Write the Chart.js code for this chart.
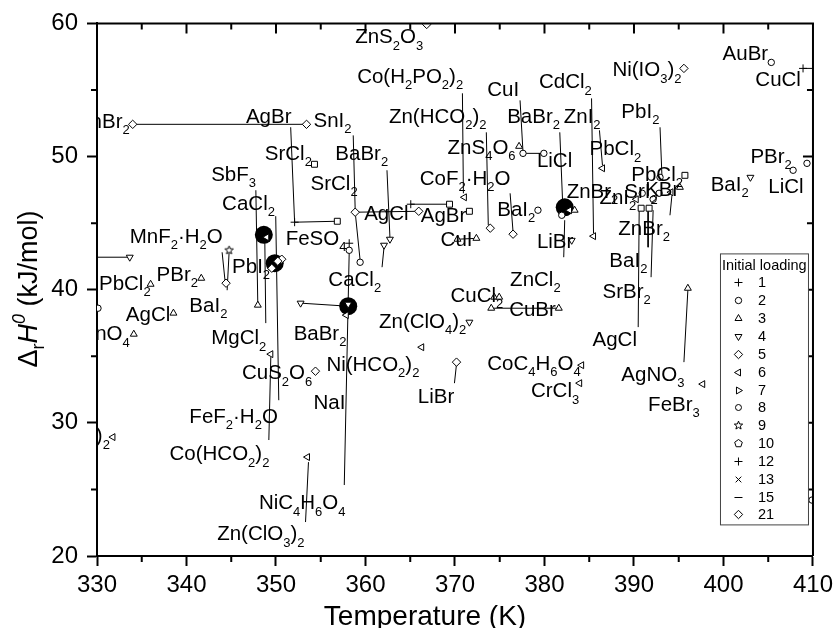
<!DOCTYPE html>
<html>
<head>
<meta charset="utf-8">
<title>Reaction enthalpy vs temperature</title>
<script src="https://cdn.jsdelivr.net/npm/chart.js@4.4.1/dist/chart.umd.min.js"></script>
<style>
  html, body { margin: 0; padding: 0; background: #fff; }
  #wrap { width: 838px; height: 628px; }
</style>
</head>
<body>
<div id="wrap"><canvas id="chart" width="838" height="628"></canvas></div>
<script>
const FONT = "'Liberation Sans', Arial, Helvetica, sans-serif";

// ── Data: [T (K), ΔrH0 (kJ/mol)] per initial loading ─────────────
const load1  = [[352.08, 45.07], [358.18, 43.49], [365.06, 46.42], [408.89, 56.62]];
const load2  = [[405.34, 57.07], [377.6, 50.24], [379.93, 50.24], [379.27, 45.97], [359.4, 42.06],
                [381.93, 45.59], [390.92, 47.24], [392.14, 46.79], [392.8, 47.24], [392.91, 48.44],
                [407.78, 48.97], [409.33, 49.49], [409.89, 24.2], [330.11, 38.61], [358.18, 42.96]];
const load3  = [[377.16, 50.77], [370.28, 43.79], [372.39, 43.86], [374.38, 39.44], [374.94, 39.44],
                [374.05, 38.61], [381.6, 38.61], [383.37, 45.97], [395.13, 47.69], [396.02, 40.11],
                [347.97, 38.84], [335.99, 40.41], [341.65, 40.86], [338.54, 38.24], [334.11, 36.66]];
const load4  = [[333.66, 42.44], [352.75, 38.99], [362.73, 43.79], [362.07, 43.34], [371.61, 37.56],
                [383.04, 43.71], [403.01, 48.44], [358.07, 38.91]];
const load5  = [[333.99, 52.42], [353.41, 52.42], [358.85, 45.82], [365.95, 45.89], [373.94, 44.62],
                [376.49, 44.17], [370.17, 34.56], [354.41, 33.88], [344.42, 40.49], [350.64, 42.29],
                [349.53, 41.61], [350.2, 42.14]];
const load6  = [[371.05, 46.94], [366.28, 35.68], [349.42, 35.16], [353.52, 27.43], [331.78, 28.93],
                [385.48, 44.02], [386.48, 49.12], [390.25, 46.79], [394.13, 47.32], [384.15, 34.33],
                [383.93, 32.98], [397.68, 32.91], [348.97, 43.94], [357.85, 38.09], [382.8, 45.97]];
const load7  = [];
const load8  = [];
const load9  = [[344.76, 42.96]];
const load10 = [[354.3, 49.42], [356.85, 45.14], [369.39, 46.42], [371.61, 45.89], [395.69, 48.59],
                [390.8, 46.12], [391.69, 46.12]];
const load12 = [];
const load13 = [];
const load15 = [];
const load21 = [[366.84, 59.92], [395.58, 56.62]];

// filled markers drawn under the open ones
const bigDots = [[348.64, 44.12], [349.86, 41.99], [358.07, 38.76], [382.26, 46.19]];

// connector / leader lines [T1, H1, T2, H2]
const leaderLines = [
  [333.99, 52.42, 353.41, 52.42], [351.64, 52.2, 352.08, 45.07], [352.08, 45.07, 356.85, 45.14],
  [370.83, 54.75, 370.94, 47.24], [373.5, 51.82, 373.72, 44.84], [377.27, 54.22, 377.6, 50.32],
  [377.6, 50.24, 379.93, 50.24], [376.16, 47.24, 376.49, 44.32], [362.4, 48.97, 362.73, 43.94],
  [358.63, 51.59, 358.85, 45.97], [358.85, 45.82, 359.4, 42.21], [362.07, 43.19, 361.85, 41.69],
  [358.18, 42.81, 357.63, 25.33], [325, 42.44, 333.66, 42.44], [352.75, 38.99, 358.07, 38.76],
  [344.76, 42.81, 344.54, 39.96], [343.98, 42.81, 344.31, 40.64], [347.75, 47.47, 347.97, 38.84],
  [349.97, 45.52, 350.31, 31.7], [348.75, 43.71, 348.86, 37.49], [349.42, 34.94, 349.2, 28.71],
  [353.63, 27.05, 353.3, 22.55], [370.17, 34.41, 369.94, 32.98], [374.05, 38.61, 381.6, 38.61],
  [370.28, 43.79, 372.39, 43.86], [358.85, 45.82, 365.95, 45.89], [365.06, 46.42, 369.39, 46.42],
  [382.26, 45.22, 382.15, 42.44], [381.71, 51.82, 382.04, 46.34], [385.26, 54.37, 385.48, 44.24],
  [386.14, 51.97, 386.48, 49.34], [392.91, 52.2, 393.13, 48.44], [390.58, 45.97, 390.47, 37.19],
  [391.58, 45.97, 391.58, 43.19], [392.14, 45.97, 391.91, 40.94], [394.24, 47.09, 394.02, 45.59],
  [396.02, 39.96, 395.58, 34.56], [408.89, 56.62, 411.3, 56.62]
];

// compound labels: [text, T, H, align]  (_x = subscript)
const labels = [
  ['ZnBr_2', 333.66, 52.72, 'r'], ['AgBr', 346.64, 53.1], ['SnI_2', 354.19, 52.8],
  ['SrCl_2', 348.75, 50.32], ['BaBr_2', 356.63, 50.32], ['SrCl_2', 353.86, 48.07],
  ['SbF_3', 342.76, 48.74], ['CaCl_2', 343.98, 46.57], ['ZnS_2O_3', 358.85, 59.1],
  ['Co(H_2PO_2)_2', 359.07, 56.1], ['Zn(HCO_2)_2', 362.62, 53.1], ['CuI', 373.61, 55.12],
  ['BaBr_2', 375.83, 53.1], ['ZnS_4O_6', 369.17, 50.77], ['LiCl', 379.15, 49.79],
  ['CoF_2·H_2O', 366.06, 48.44], ['BaI_2', 374.72, 46.12], ['AgCl', 359.85, 45.82],
  ['AgBr', 366.17, 45.67], ['CuI', 368.39, 43.86], ['FeSO_4', 351.08, 43.94],
  ['MnF_2·H_2O', 333.66, 44.09], ['PbI_2', 345.09, 41.84], ['CaCl_2', 355.85, 40.86],
  ['PbCl_2', 330.22, 40.56], ['PBr_2', 336.66, 41.24], ['BaI_2', 340.32, 38.91],
  ['AgCl', 333.22, 38.24], ['KMnO_4', 333.66, 36.74, 'r'], ['MgCl_2', 342.76, 36.44],
  ['CuS_2O_6', 346.2, 33.81], ['FeF_2·H_2O', 340.32, 30.58], ['Co(HCO_2)_2', 338.1, 27.73],
  ['NiC_4H_6O_4', 348.09, 24.05], ['Zn(ClO_3)_2', 343.43, 21.73], ['Co(IO_3)_2', 331.44, 29.08, 'r'],
  ['BaBr_2', 351.97, 36.81], ['NaI', 354.19, 31.56], ['Ni(HCO_2)_2', 355.63, 34.48],
  ['Zn(ClO_4)_2', 361.51, 37.71], ['CuCl_2', 369.5, 39.66], ['CuBr', 376.05, 38.61],
  ['LiBr', 365.84, 32.08], ['CoC_4H_6O_4', 373.61, 34.56], ['CrCl_3', 378.49, 32.46],
  ['LiBr', 379.15, 43.71], ['ZnCl_2', 376.16, 40.86], ['ZnBr_2', 388.25, 44.69],
  ['BaI_2', 387.25, 42.29], ['SrBr_2', 386.48, 39.96], ['AgCl', 385.37, 36.36],
  ['AgNO_3', 388.59, 33.73], ['FeBr_3', 391.58, 31.48], ['CdCl_2', 379.38, 55.72],
  ['ZnI_2', 382.15, 53.1], ['PbI_2', 388.59, 53.47], ['PbCl_2', 385.03, 50.69],
  ['ZnBr_2', 382.48, 47.47], ['PbCl_2', 389.7, 48.74], ['ZnI_2', 386.14, 47.02],
  ['SrI_2', 388.92, 47.47], ['KBr', 391.25, 47.62], ['BaI_2', 398.57, 47.99],
  ['PBr_2', 403.01, 50.09], ['LiCl', 405.01, 47.84], ['AuBr', 399.9, 57.82],
  ['CuCl', 403.56, 55.87], ['Ni(IO_3)_2', 387.59, 56.62]
];

// ── Custom marker images ─────────────────────────────────────────
function shapeImg(points) {
  const c = document.createElement('canvas');
  c.width = c.height = 11;
  const g = c.getContext('2d');
  g.beginPath();
  points.forEach(([px, py], i) => i ? g.lineTo(5.5 + px, 5.5 + py) : g.moveTo(5.5 + px, 5.5 + py));
  g.closePath();
  g.fillStyle = '#fff'; g.fill();
  g.strokeStyle = '#000'; g.lineWidth = 1; g.stroke();
  return c;
}
const starPts = [], pentPts = [];
for (let i = 0; i < 10; i++) {
  const a = -Math.PI / 2 + i * Math.PI / 5, r = i % 2 ? 1.9 : 4.4;
  starPts.push([Math.cos(a) * r, Math.sin(a) * r]);
}
for (let i = 0; i < 5; i++) {
  const a = -Math.PI / 2 + i * 2 * Math.PI / 5;
  pentPts.push([Math.cos(a) * 4, Math.sin(a) * 4]);
}
const starImg = shapeImg(starPts);
const pentImg = shapeImg(pentPts);

const series = [
  { key: '1',  data: load1,  style: 'cross',    r: 4 },
  { key: '2',  data: load2,  style: 'circle',   r: 3.2 },
  { key: '3',  data: load3,  style: 'triangle', r: 4 },
  { key: '4',  data: load4,  style: 'triangle', r: 4, rot: 180 },
  { key: '5',  data: load5,  style: 'rectRot',  r: 4.2 },
  { key: '6',  data: load6,  style: 'triangle', r: 4, rot: -90 },
  { key: '7',  data: load7,  style: 'triangle', r: 4, rot: 90 },
  { key: '8',  data: load8,  style: 'circle',   r: 3 },
  { key: '9',  data: load9,  style: starImg,    r: 4 },
  { key: '10', data: load10, style: 'rect',     r: 4.2, legendStyle: pentImg },
  { key: '12', data: load12, style: 'cross',    r: 4 },
  { key: '13', data: load13, style: 'crossRot', r: 4 },
  { key: '15', data: load15, style: 'line',     r: 4 },
  { key: '21', data: load21, style: 'rectRot',  r: 4.2 }
];

const toXY = arr => arr.map(([x, y]) => ({ x, y }));

const datasets = [];
leaderLines.forEach(([x1, y1, x2, y2]) => {
  datasets.push({
    data: [{ x: x1, y: y1 }, { x: x2, y: y2 }],
    showLine: true, borderColor: '#000', borderWidth: 1,
    pointRadius: 0, order: 3
  });
});
datasets.push({
  data: toXY(bigDots), pointRadius: 9, pointBackgroundColor: '#000',
  pointBorderColor: '#000', pointBorderWidth: 0, order: 2
});
series.forEach(s => {
  datasets.push({
    label: s.key, data: toXY(s.data), pointStyle: s.style, pointRadius: s.r,
    pointRotation: s.rot || 0, pointBackgroundColor: '#fff', pointBorderColor: '#000',
    pointBorderWidth: 1, order: 1
  });
});

// ── Rich text (sub/superscripts) ─────────────────────────────────
function tokens(s) {
  const out = [];
  for (let i = 0; i < s.length; i++) {
    const c = s[i];
    if ((c === '_' || c === '^') && i + 1 < s.length) { out.push({ t: s[i + 1], k: c }); i++; }
    else if (out.length && out[out.length - 1].k === 'n') out[out.length - 1].t += c;
    else out.push({ t: c, k: 'n' });
  }
  return out;
}
function drawRich(ctx, s, x, base, size, measureOnly) {
  const x0 = x;
  tokens(s).forEach(tk => {
    const sz = tk.k === 'n' ? size : Math.round(size * 0.65);
    ctx.font = sz + 'px ' + FONT;
    const dy = tk.k === '_' ? size * 0.33 : tk.k === '^' ? -size * 0.45 : 0;
    if (!measureOnly) ctx.fillText(tk.t, x, base + dy);
    x += ctx.measureText(tk.t).width;
  });
  return x - x0;
}

const LABEL_SIZE = 20.5;

const labelPlugin = {
  id: 'compoundLabels',
  afterDatasetsDraw(chart) {
    const { ctx, chartArea: a, scales: { x, y } } = chart;
    ctx.save();
    ctx.beginPath();
    ctx.rect(a.left, a.top, a.right - a.left, a.bottom - a.top);
    ctx.clip();
    ctx.fillStyle = '#000';
    ctx.textBaseline = 'alphabetic';
    labels.forEach(([txt, tx, ty, al]) => {
      let px = x.getPixelForValue(tx);
      const py = y.getPixelForValue(ty);
      if (al === 'r') px -= drawRich(ctx, txt, 0, 0, LABEL_SIZE, true);
      drawRich(ctx, txt, px, py + LABEL_SIZE * 0.36, LABEL_SIZE);
    });
    ctx.restore();
  }
};

// ── Frame, minor ticks, titles, legend ───────────────────────────
const framePlugin = {
  id: 'frame',
  afterDraw(chart) {
    const { ctx, chartArea: a, scales: { x, y } } = chart;
    ctx.save();
    ctx.strokeStyle = '#000';
    ctx.lineWidth = 2;
    ctx.beginPath();
    ctx.moveTo(a.left, a.top); ctx.lineTo(a.right, a.top); ctx.lineTo(a.right, a.bottom);
    ctx.stroke();

    ctx.beginPath();
    for (let t = 330; t <= 410; t += 5) {
      const px = x.getPixelForValue(t);
      const major = t % 10 === 0;
      if (!major) { ctx.moveTo(px, a.bottom); ctx.lineTo(px, a.bottom + 6); }
      if (t > 330 && t < 410) { ctx.moveTo(px, a.top); ctx.lineTo(px, a.top + (major ? 10 : 6)); }
    }
    for (let h = 20; h <= 60; h += 5) {
      const py = y.getPixelForValue(h);
      const major = h % 10 === 0;
      if (!major) { ctx.moveTo(a.left, py); ctx.lineTo(a.left - 6, py); }
      if (h > 20 && h < 60) { ctx.moveTo(a.right, py); ctx.lineTo(a.right - (major ? 10 : 6), py); }
    }
    ctx.stroke();

    // axis titles
    ctx.fillStyle = '#000';
    ctx.textBaseline = 'alphabetic';
    ctx.font = '28px ' + FONT;
    ctx.textAlign = 'center';
    ctx.fillText('Temperature (K)', 425, 625);
    ctx.textAlign = 'left';

    ctx.save();
    ctx.translate(27, 289);
    ctx.rotate(-Math.PI / 2);
    const parts = [
      { t: 'Δ', f: '27px ', dy: 0 },
      { t: 'r', f: '18px ', dy: 7 },
      { t: 'H', f: 'italic 27px ', dy: 0 },
      { t: '0', f: 'italic 18px ', dy: -12 },
      { t: ' (kJ/mol)', f: '27px ', dy: 0 }
    ];
    let w = 0;
    parts.forEach(p => { ctx.font = p.f + FONT; w += ctx.measureText(p.t).width; });
    let cx = -w / 2;
    parts.forEach(p => {
      ctx.font = p.f + FONT;
      ctx.fillText(p.t, cx, 10 + p.dy);
      cx += ctx.measureText(p.t).width;
    });
    ctx.restore();

    // legend box
    const bx = a.right - 93, by = a.top + 230, bw = 88, bh = 271;
    ctx.fillStyle = '#fff';
    ctx.fillRect(bx, by, bw, bh);
    ctx.strokeStyle = '#444';
    ctx.lineWidth = 1;
    ctx.strokeRect(bx + 0.5, by + 0.5, bw, bh);
    ctx.fillStyle = '#000';
    ctx.font = '14.5px ' + FONT;
    ctx.textBaseline = 'middle';
    ctx.fillText('Initial loading', bx + 2, by + 13);
    series.forEach((s, i) => {
      const ly = Math.round(by + 29 + i * 17.85) + 0.5;
      ctx.fillStyle = '#fff';
      ctx.strokeStyle = '#000';
      ctx.lineWidth = 1;
      if (Chart.helpers && Chart.helpers.drawPoint) {
        Chart.helpers.drawPoint(ctx, {
          pointStyle: s.legendStyle || s.style, radius: s.r,
          rotation: s.rot || 0, borderWidth: 1
        }, bx + 18.5, ly);
      }
      ctx.fillStyle = '#000';
      ctx.fillText(s.key, bx + 38, ly + 0.5);
    });
    ctx.restore();
  }
};

// ── Chart ────────────────────────────────────────────────────────
const tickFont = { family: FONT, size: 24 };

new Chart(document.getElementById('chart'), {
  type: 'scatter',
  data: { datasets },
  options: {
    responsive: false,
    animation: false,
    devicePixelRatio: 1,
    layout: { padding: { top: 23, right: 20, left: 0, bottom: 0 } },
    plugins: { legend: { display: false }, tooltip: { enabled: false } },
    scales: {
      x: {
        type: 'linear', min: 330, max: 410,
        ticks: { stepSize: 10, color: '#000', font: tickFont, padding: 5, maxRotation: 0 },
        grid: { drawOnChartArea: false, drawTicks: true, tickLength: 10, tickWidth: 2, color: '#000' },
        border: { display: true, width: 2, color: '#000' },
        afterFit: s => { s.height = 72; }
      },
      y: {
        type: 'linear', min: 20, max: 60,
        ticks: { stepSize: 10, color: '#000', font: tickFont, padding: 9 },
        grid: { drawOnChartArea: false, drawTicks: true, tickLength: 10, tickWidth: 2, color: '#000' },
        border: { display: true, width: 2, color: '#000' },
        afterFit: s => { s.width = 97; }
      }
    }
  },
  plugins: [labelPlugin, framePlugin]
});
</script>
</body>
</html>
